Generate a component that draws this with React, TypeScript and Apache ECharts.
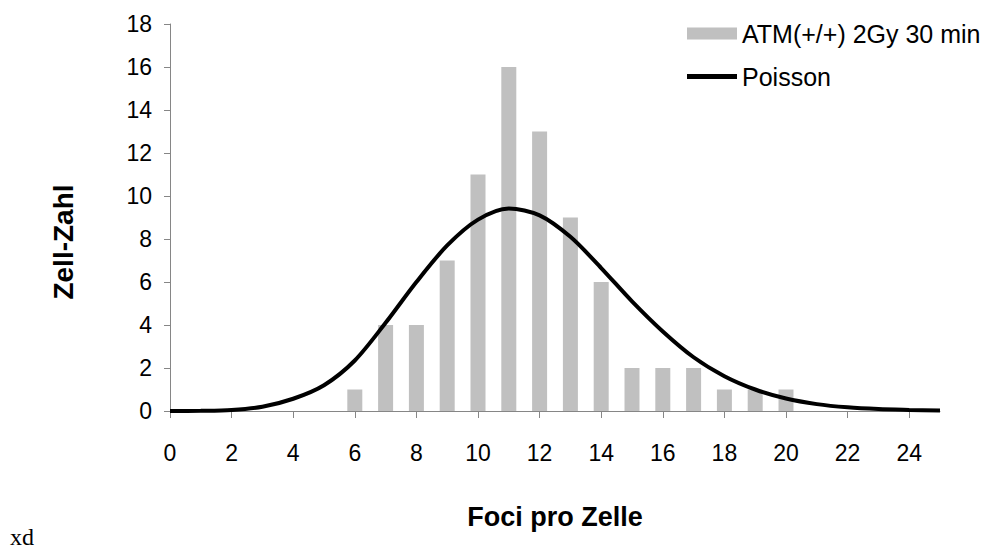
import React, { useEffect, useRef } from "react";
import * as echarts from "echarts";

const categories = ["0","1","2","3","4","5","6","7","8","9","10","11","12","13","14","15","16","17","18","19","20","21","22","23","24","25"];
const barValues: (number | null)[] = [null,null,null,null,null,null,1,4,4,7,11,16,13,9,6,2,2,2,1,1,1,null,null,null,null,null];
const poissonValues = [0,0.01,0.05,0.2,0.57,1.2,2.35,4.1,6.0,7.7,8.9,9.42,9.1,8.1,6.65,5.1,3.7,2.5,1.62,1.0,0.58,0.32,0.17,0.09,0.05,0.02];
const barName = "ATM(+/+) 2Gy 30 min";
const lineName = "Poisson";
const xTitle = "Foci pro Zelle";
const yTitle = "Zell-Zahl";
const footText = "xd";

export default function App() {
  const ref = useRef<HTMLDivElement>(null);
  useEffect(() => {
    if (!ref.current) return;
    const chart = echarts.init(ref.current, undefined, { renderer: "svg" });
    const font = "'Liberation Sans', Arial, sans-serif";
    chart.setOption({
      animation: false,
      backgroundColor: "#ffffff",
      textStyle: { fontFamily: font, color: "#000" },
      grid: { left: 170, right: 56, top: 24, bottom: 138, containLabel: false },
      legend: {
        orient: "vertical",
        left: 682,
        top: 16,
        itemWidth: 50,
        itemHeight: 12,
        itemGap: 18,
        textStyle: { fontFamily: font, fontSize: 25, color: "#000" },
        data: [
          { name: barName, icon: "rect" },
          { name: lineName, icon: "path://M0 0H50V5H0Z" },
        ],
      },
      xAxis: {
        type: "category",
        data: categories,
        boundaryGap: false,
        axisLine: { lineStyle: { color: "#868686", width: 1 } },
        axisTick: { interval: 1, length: 7, lineStyle: { color: "#868686" } },
        axisLabel: { interval: 1, margin: 30, fontSize: 23, color: "#000", fontFamily: font },
        splitLine: { show: false },
      },
      yAxis: {
        type: "value",
        min: 0,
        max: 18,
        interval: 2,
        axisLine: { show: true, lineStyle: { color: "#868686", width: 1 } },
        axisTick: { show: true, length: 6, lineStyle: { color: "#868686" } },
        axisLabel: { margin: 18, fontSize: 23, color: "#000", fontFamily: font },
        splitLine: { show: false },
      },
      series: [
        {
          name: barName,
          type: "bar",
          data: barValues,
          barWidth: 15,
          itemStyle: { color: "#c0c0c0" },
          z: 2,
        },
        {
          name: lineName,
          type: "line",
          data: poissonValues,
          smooth: 0.3,
          symbol: "none",
          lineStyle: { color: "#000", width: 4 },
          itemStyle: { color: "#000" },
          z: 3,
        },
      ],
      graphic: [
        {
          type: "text",
          x: 555,
          y: 517,
          style: { text: xTitle, font: `bold 27px ${font}`, fill: "#000", align: "center", verticalAlign: "middle" },
        },
        {
          type: "text",
          x: 63,
          y: 242,
          rotation: Math.PI / 2,
          style: { text: yTitle, font: `bold 28px ${font}`, fill: "#000", align: "center", verticalAlign: "middle" },
        },
        {
          type: "text",
          x: 10,
          y: 537,
          style: { text: footText, font: `24px 'Liberation Serif', 'Times New Roman', serif`, fill: "#000", align: "left", verticalAlign: "middle" },
        },
      ],
    });
    return () => chart.dispose();
  }, []);
  return <div ref={ref} style={{ position: "fixed", left: 0, top: 0, width: 996, height: 549 }} />;
}
